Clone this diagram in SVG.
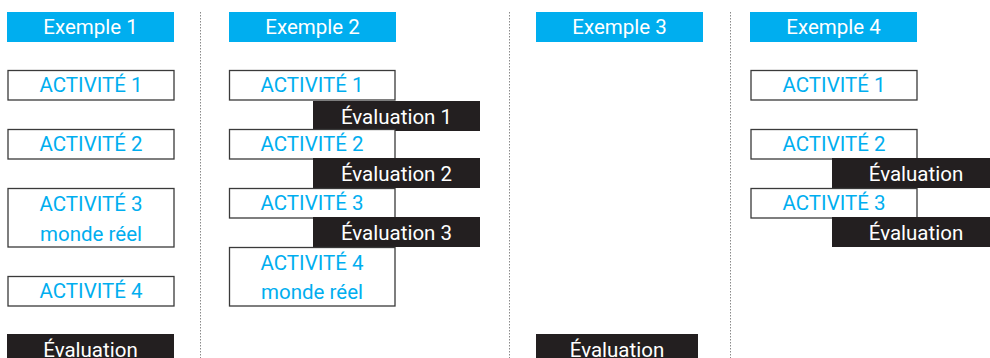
<svg xmlns="http://www.w3.org/2000/svg" width="990" height="358" viewBox="0 0 990 358">
<style>
.hdr{fill:#00AEEF}
.act{fill:#fff;stroke:#3a3a3a;stroke-width:1.3}
.ev{fill:#231F20}
.sep{stroke:#8a8a8a;stroke-width:1;stroke-dasharray:1.5 1.5;fill:none}
text{font-family:Roboto,"Liberation Sans",Arial,sans-serif;font-size:20.5px;font-weight:400;text-anchor:middle}
.ht{fill:#fff}
.at{fill:#00AEEF}
.et{fill:#fff}
</style>
<rect width="990" height="358" fill="#fff"/>
<g id="separators">
<line class="sep" x1="200.5" y1="12" x2="200.5" y2="358"/>
<line class="sep" x1="509.5" y1="12" x2="509.5" y2="358"/>
<line class="sep" x1="730.5" y1="12" x2="730.5" y2="358"/>
</g>
<!-- Exemple 1 -->
<g id="ex1-header"><rect class="hdr" x="7" y="12" width="167" height="30"/><text class="ht" x="90.5" y="34.3">Exemple 1</text></g>
<g id="ex1-act1"><rect class="act" x="8" y="70.5" width="166" height="29.5"/><text class="at" x="91" y="92.3">ACTIVITÉ 1</text></g>
<g id="ex1-act2"><rect class="act" x="8" y="129.5" width="166" height="29.5"/><text class="at" x="91" y="151.3">ACTIVITÉ 2</text></g>
<g id="ex1-act3"><rect class="act" x="8" y="188.5" width="166" height="58.5"/><text class="at" x="91" y="210.8">ACTIVITÉ 3</text><text class="at" x="91" y="240.5">monde réel</text></g>
<g id="ex1-act4"><rect class="act" x="8" y="276.5" width="166" height="29.5"/><text class="at" x="91" y="298.3">ACTIVITÉ 4</text></g>
<g id="ex1-eval"><rect class="ev" x="7" y="334" width="167" height="30"/><text class="et" x="90.5" y="357">Évaluation</text></g>
<!-- Exemple 2 -->
<g id="ex2-header"><rect class="hdr" x="229" y="12" width="167" height="30"/><text class="ht" x="312.5" y="34.3">Exemple 2</text></g>
<g id="ex2-act1"><rect class="act" x="229.5" y="70.5" width="165.5" height="29.5"/><text class="at" x="312" y="92.3">ACTIVITÉ 1</text></g>
<g id="ex2-eval1"><rect class="ev" x="313" y="101" width="167" height="30"/><text class="et" x="396.5" y="124">Évaluation 1</text></g>
<g id="ex2-act2"><rect class="act" x="229.5" y="129.5" width="165.5" height="29.5"/><text class="at" x="312" y="151.3">ACTIVITÉ 2</text></g>
<g id="ex2-eval2"><rect class="ev" x="313" y="158" width="167" height="30"/><text class="et" x="396.5" y="181">Évaluation 2</text></g>
<g id="ex2-act3"><rect class="act" x="229.5" y="188.5" width="165.5" height="29.5"/><text class="at" x="312" y="210.3">ACTIVITÉ 3</text></g>
<g id="ex2-eval3"><rect class="ev" x="313" y="217" width="167" height="30"/><text class="et" x="396.5" y="240">Évaluation 3</text></g>
<g id="ex2-act4"><rect class="act" x="229.5" y="247.5" width="165.5" height="58.5"/><text class="at" x="312" y="269.5">ACTIVITÉ 4</text><text class="at" x="312" y="299">monde réel</text></g>
<!-- Exemple 3 -->
<g id="ex3-header"><rect class="hdr" x="536" y="12" width="167" height="30"/><text class="ht" x="619.5" y="34.3">Exemple 3</text></g>
<g id="ex3-eval"><rect class="ev" x="536" y="334" width="162" height="30"/><text class="et" x="617" y="357">Évaluation</text></g>
<!-- Exemple 4 -->
<g id="ex4-header"><rect class="hdr" x="750" y="12" width="167" height="30"/><text class="ht" x="833.5" y="34.3">Exemple 4</text></g>
<g id="ex4-act1"><rect class="act" x="751" y="70.5" width="166" height="29.5"/><text class="at" x="834" y="92.3">ACTIVITÉ 1</text></g>
<g id="ex4-act2"><rect class="act" x="751" y="129.5" width="166" height="29.5"/><text class="at" x="834" y="151.3">ACTIVITÉ 2</text></g>
<g id="ex4-eval1"><rect class="ev" x="832" y="158" width="167" height="30"/><text class="et" x="916" y="181">Évaluation</text></g>
<g id="ex4-act3"><rect class="act" x="751" y="188.5" width="166" height="29.5"/><text class="at" x="834" y="210.3">ACTIVITÉ 3</text></g>
<g id="ex4-eval2"><rect class="ev" x="832" y="217" width="167" height="30"/><text class="et" x="916" y="240">Évaluation</text></g>
<g id="connectors"/>
</svg>
